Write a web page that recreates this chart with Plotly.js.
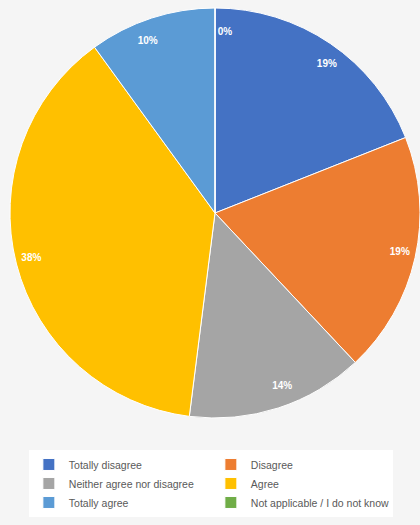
<!DOCTYPE html>
<html>
<head>
<meta charset="utf-8">
<script src="https://cdn.plot.ly/plotly-3.0.1.min.js"></script>
<style>
html,body{margin:0;padding:0;background:#f5f5f5;}
#chart{width:420px;height:525px;}
</style>
</head>
<body>
<div id="chart"></div>
<script>
var categories = ["Totally disagree", "Disagree", "Neither agree nor disagree", "Agree", "Totally agree", "Not applicable / I do not know"];
var percentValues = [19, 19, 14, 38, 10, 0];
var sliceColors = ["#4472C4", "#ED7D31", "#A5A5A5", "#FFC000", "#5B9BD5", "#70AD47"];

// main pie (slices + legend)
var pieTrace = {
  type: "pie",
  labels: categories,
  values: percentValues,
  sort: false,
  direction: "clockwise",
  rotation: 0,
  domain: {x: [0, 1], y: [0, 1]},
  marker: {colors: sliceColors, line: {color: "#ffffff", width: 1}},
  textinfo: "none",
  hoverinfo: "label+percent",
  showlegend: true
};

// label layer: same data, transparent slices, labels placed near the outer edge
var labelTrace = {
  type: "pie",
  labels: categories,
  values: percentValues,
  sort: false,
  direction: "clockwise",
  rotation: 0,
  domain: {x: [0.07, 0.93], y: [0.07, 0.93]},
  marker: {colors: categories.map(function(){return "rgba(0,0,0,0)";}), line: {width: 0}},
  texttemplate: "%{value}%",
  textposition: "outside",
  outsidetextfont: {family: "Liberation Sans, Arial, sans-serif", size: 10, color: "#ffffff", weight: "bold"},
  hoverinfo: "skip",
  showlegend: false
};

var layout = {
  width: 420,
  height: 525,
  margin: {l: 10, r: 0, t: 8, b: 107},
  paper_bgcolor: "#f5f5f5",
  plot_bgcolor: "#f5f5f5",
  showlegend: true,
  legend: {
    orientation: "h",
    x: 0.046,
    xanchor: "left",
    y: -0.078,
    yanchor: "top",
    entrywidth: 137,
    entrywidthmode: "pixels",
    bgcolor: "#ffffff",
    font: {family: "Liberation Sans, Arial, sans-serif", size: 10.5, color: "#595959"},
    traceorder: "normal"
  }
};

Plotly.newPlot("chart", [pieTrace, labelTrace], layout, {displayModeBar: false, staticPlot: true});
</script>
</body>
</html>
